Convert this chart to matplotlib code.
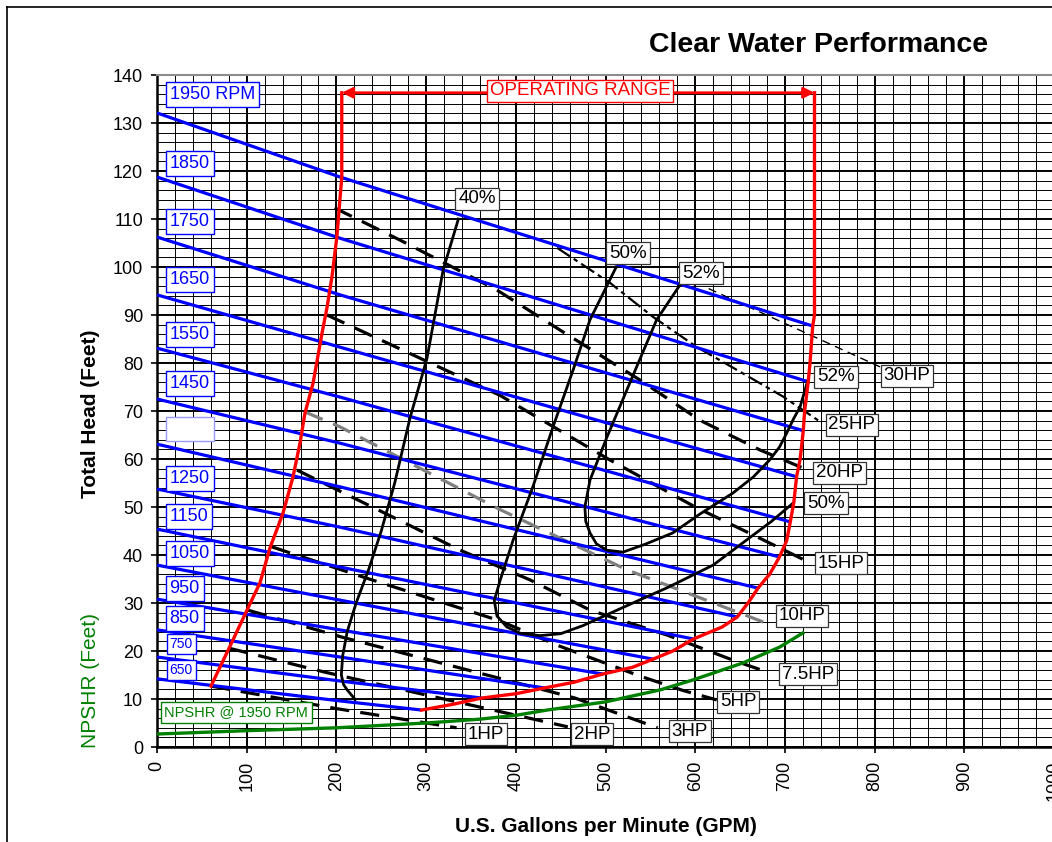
import matplotlib
matplotlib.use('Agg')
import matplotlib.pyplot as plt
import numpy as np
from matplotlib.lines import Line2D

plt.rcParams['font.family'] = ['Liberation Sans', 'DejaVu Sans']

# ---------------- data ----------------
# Head curves at constant speed (GPM 0, GPM 204, end point on operating boundary)
rpm_labels = ['1950 RPM', '1850', '1750', '1650', '1550', '1450', '', '1250',
              '1150', '1050', '950', '850', '750', '650']
rpm_label_head = [135.9, 121.6, 109.5, 97.4, 85.9, 75.8, 66.25, 56.0, 48.1,
                  40.4, 33.1, 26.7, 21.5, 16.0]
rpm_head_0 = [132.1, 118.75, 106.25, 94.2, 83.1, 72.5, 63.1, 53.75, 45.4, 37.9,
              30.8, 24.4, 18.75, 14.2]
rpm_head_204 = [118.75, 106.0, 94.2, 83.3, 72.9, 63.3, 54.2, 45.8, 37.5, 30.6,
                24.4, 18.75, 13.75, 9.6]
rpm_end_gpm = [731, 726, 720.5, 713, 706, 694, 670, 647, 598, 553, 497, 432, 362, 295]
rpm_end_head = [87.7, 76.1, 65.9, 56.3, 46.9, 39.6, 33.1, 27.1, 22.5, 18.3,
                15.2, 12.3, 10.2, 7.7]

# Operating range boundary
red_left_gpm = [206, 206, 200.5, 195, 189.5, 184, 174, 165, 159.4, 151.6, 140.5,
                126, 114.8, 100.3, 84.7, 60.2]
red_left_head = [136.3, 118.75, 106.25, 97.9, 91.5, 86.25, 75.8, 69.6, 63.3,
                 56.25, 48.75, 41.5, 34.2, 28.5, 22.3, 12.7]
red_right_gpm = [733, 733, 731, 728, 726, 722, 720.5, 717, 713, 710, 706, 702,
                 694, 683, 670, 660, 647, 630, 598, 575, 553, 530, 497, 465, 432,
                 400, 362, 330, 295]
red_right_head = [136.3, 90, 87.7, 80, 76.1, 70, 65.9, 60, 56.3, 51, 46.9, 43,
                  39.6, 36, 33.1, 30.3, 27.1, 25, 22.5, 20, 18.3, 16.6, 15.2, 13.5,
                  12.3, 11.1, 10.2, 8.9, 7.7]
range_top = 136.3
range_left = 206
range_right = 733

# NPSHR @ 1950 RPM
npshr_gpm = [0, 100, 200, 300, 360, 400, 435, 500, 561, 598, 653, 694, 720]
npshr_ft = [2.7, 3.4, 4.0, 5.0, 5.8, 6.6, 7.7, 9.4, 11.9, 14.0, 17.5, 20.8, 23.75]

# Efficiency contours
eff40_gpm = [336, 319, 301, 282, 265, 250, 236, 222, 212, 207, 205.5, 208, 212, 221]
eff40_head = [110, 99.4, 81, 68.5, 55, 45, 37, 30, 24, 19, 15, 13, 11.9, 9.9]
eff50_gpm = [511.7, 482.7, 463.8, 441.5, 419, 397, 383, 376, 379, 390, 405, 427,
             450, 475, 508, 540, 569, 620, 655, 685, 709]
eff50_head = [99.9, 89, 78.5, 66.7, 54.2, 43.1, 35, 30.5, 27.3, 25, 23.7, 23.2,
              23.6, 25.3, 28.1, 30.8, 33.2, 37.9, 42.8, 47.0, 50.8]
eff52_gpm = [583, 557, 527, 501.7, 482.7, 477, 478, 482.7, 490, 501.7, 519.5, 545,
             575, 605, 642, 665, 683, 694, 702, 710, 716.8, 725.8]
eff52_head = [96.25, 89, 75.8, 64.6, 55.6, 50, 47, 44.6, 42.3, 41, 40.6, 42.3,
              44.6, 48.5, 52.9, 56.3, 59.8, 62.5, 65.4, 68.5, 70.8, 76.5]

# Horsepower lines
hp1_gpm, hp1_head = [60, 200, 334], [12.7, 8.0, 4.0]
hp2_gpm, hp2_head = [80, 187, 315, 458], [20.6, 15.6, 10.2, 4.2]
hp3_gpm, hp3_head = [101.5, 206, 466, 558], [28.5, 22.9, 10.2, 4.0]
hp5_gpm, hp5_head = [128, 230, 382, 449, 538, 586, 624], [41.7, 35.4, 26.3, 21.0, 14.8, 11.8, 9.8]
hp75_gpm, hp75_head = [156, 338, 416, 483, 569, 642, 682], [57.7, 41, 34.8, 28.5, 23.3, 18.1, 15.5]
hp10_gpm, hp10_head = [165, 204, 382, 524, 682], [69.8, 66.7, 49.5, 36.9, 25.6]
hp15_gpm, hp15_head = [189.5, 382, 503, 600, 672, 730], [90, 73.3, 60, 50, 43.5, 38.2]
hp20_gpm, hp20_head = [198, 271, 379, 449, 538, 605, 672, 728], [112.3, 105.6, 95.2, 86.9, 76.5, 68.1, 61.9, 57.5]
hp25_gpm, hp25_head = [446, 505, 553, 602, 647, 698, 739], [104, 96.7, 89.6, 83.3, 78.5, 73, 67.8]
hp30_gpm, hp30_head = [615, 806], [95.5, 79.2]

# Labels (text, gpm, head)
eff_labels = [('40%', 356.7, 114.2), ('50%', 525, 102.9), ('52%', 606.5, 98.75),
              ('52%', 757, 77.1), ('50%', 745.8, 50.8)]
hp_labels = [('30HP', 836, 77.3), ('25HP', 774.8, 67.1), ('20HP', 761, 57.1),
             ('15HP', 762.5, 38.3), ('10HP', 719, 27.3), ('7.5HP', 725.8, 15.2),
             ('5HP', 647.7, 9.4), ('3HP', 594, 3.3), ('2HP', 485, 2.7), ('1HP', 366.8, 2.7)]

# ---------------- figure ----------------
W, H = 1052, 842
fig = plt.figure(figsize=(W / 100, H / 100), dpi=100)
ax = fig.add_axes([157 / W, 95 / H, 897 / W, 672 / H])
ax.set_xlim(0, 1000)
ax.set_ylim(0, 140)
ax.set_xticks(np.arange(0, 1001, 100))
ax.set_xticks(np.arange(0, 1001, 20), minor=True)
ax.set_yticks(np.arange(0, 141, 10))
ax.set_yticks(np.arange(0, 141, 2), minor=True)
ax.set_axisbelow(True)
ax.grid(which='minor', color='black', lw=0.7)
ax.grid(which='major', color='black', lw=1.4)
ax.tick_params(which='minor', length=0)
ax.tick_params(which='major', length=4, width=1.2, labelsize=13, pad=6, direction='out')
for lab in ax.get_xticklabels():
    lab.set_rotation(90)
for s in ['left', 'bottom']:
    ax.spines[s].set_linewidth(1.8)
ax.spines['top'].set_color('#8c8c8c')
ax.spines['top'].set_linewidth(1.5)

BLUE = '#0000ff'
RED = '#ff0000'
GREEN = '#008000'

# head curves
for h0, h204, ex, ey in zip(rpm_head_0, rpm_head_204, rpm_end_gpm, rpm_end_head):
    ax.plot([0, 204, ex], [h0, h204, ey], color=BLUE, lw=2.3, zorder=4,
            solid_capstyle='butt')

# HP lines
dash = (6, 3.5)
for gx, gy, col in [(hp1_gpm, hp1_head, 'black'), (hp2_gpm, hp2_head, 'black'),
                    (hp3_gpm, hp3_head, 'black'), (hp5_gpm, hp5_head, 'black'),
                    (hp75_gpm, hp75_head, 'black'), (hp10_gpm, hp10_head, '#808080'),
                    (hp15_gpm, hp15_head, 'black'), (hp20_gpm, hp20_head, 'black')]:
    ax.plot(gx, gy, color=col, lw=2.3, dashes=dash, zorder=3)
ax.plot(hp25_gpm, hp25_head, color='black', lw=1.6, dashes=(7, 2, 2, 2), zorder=3)
ax.plot(hp30_gpm, hp30_head, color='black', lw=1.0, dashes=(6, 4), zorder=3)

# efficiency contours
for gx, gy in [(eff40_gpm, eff40_head), (eff50_gpm, eff50_head), (eff52_gpm, eff52_head)]:
    ax.plot(gx, gy, color='black', lw=2.0, zorder=5)

# operating range
ax.plot(red_left_gpm, red_left_head, color=RED, lw=2.4, zorder=6)
ax.plot(red_right_gpm, red_right_head, color=RED, lw=2.4, zorder=6)
ax.annotate('', xy=(range_left, range_top), xytext=(range_right, range_top),
            arrowprops=dict(arrowstyle='<|-|>', color=RED, lw=2.0, mutation_scale=16,
                            shrinkA=0, shrinkB=0), zorder=6)
ax.text(471.6, 136.7, 'OPERATING RANGE', color=RED, fontsize=13.5, ha='center',
        va='center', zorder=10,
        bbox=dict(boxstyle='square,pad=0.15', fc='white', ec=RED, lw=1.0))

# NPSHR
ax.plot(npshr_gpm, npshr_ft, color=GREEN, lw=2.4, zorder=6)
ax.text(8, 7.2, 'NPSHR @ 1950 RPM', color=GREEN, fontsize=10.5, ha='left',
        va='center', zorder=10,
        bbox=dict(boxstyle='square,pad=0.25', fc='white', ec=GREEN, lw=1.0))

# RPM labels
for lab, y in zip(rpm_labels, rpm_label_head):
    fs = 10 if lab in ('750', '650') else 13
    txt = lab if lab else '\u2007\u2007\u2007\u2007'
    ax.text(14, y, txt, color=BLUE, fontsize=fs, ha='left', va='center', zorder=10,
            bbox=dict(boxstyle='square,pad=0.22', fc='white',
                      ec=BLUE if lab else '#9a9aff', lw=1.0))

for lab, x, y in eff_labels + hp_labels:
    ax.text(x, y, lab, color='black', fontsize=13.5, ha='center', va='center',
            zorder=10, bbox=dict(boxstyle='square,pad=0.15', fc='white',
                                 ec='#333333', lw=0.9))

# titles / axis labels
fig.text(819 / W, 1 - 45 / H, 'Clear Water Performance', fontsize=20.5,
         fontweight='bold', ha='center', va='center')
fig.text(606 / W, 1 - 826 / H, 'U.S. Gallons per Minute (GPM)', fontsize=15,
         fontweight='bold', ha='center', va='center')
fig.text(91 / W, 1 - 414 / H, 'Total Head (Feet)', fontsize=15, fontweight='bold',
         ha='center', va='center', rotation=90)
fig.text(91 / W, 1 - 680 / H, 'NPSHR (Feet)', fontsize=15, color=GREEN,
         ha='center', va='center', rotation=90)

# outer frame lines
fig.add_artist(Line2D([6.5 / W, 6.5 / W], [0, 1 - 7 / H], color='black', lw=1.2,
                      transform=fig.transFigure))
fig.add_artist(Line2D([6.5 / W, 1], [1 - 7 / H, 1 - 7 / H], color='black', lw=1.2,
                      transform=fig.transFigure))

fig.savefig('out.png', dpi=100)
